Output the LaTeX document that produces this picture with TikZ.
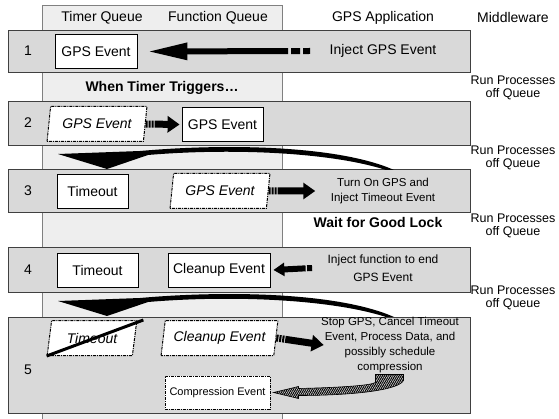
\documentclass[tikz,border=0pt]{standalone}
\usepackage{fontspec}
\setmainfont{Liberation Sans}
\usetikzlibrary{arrows.meta,shapes.geometric,patterns.meta}
\definecolor{colfill}{HTML}{EEEEEE}
\definecolor{bandfill}{HTML}{D9D9D9}
\definecolor{banddraw}{HTML}{404040}
\definecolor{colline}{HTML}{808080}
\tikzset{
    band/.style={fill=bandfill, draw=banddraw, line width=0.8pt},
    dashpat/.style={line width=1pt, dash pattern=on 3pt off 1pt on 1pt off 1pt},
    evbox/.style={draw, fill=white, line width=0.8pt, inner sep=0pt, minimum height=34pt},
    evpara/.style={trapezium, trapezium left angle=75, trapezium right angle=105,
        trapezium stretches=true, draw, fill=white, dashpat,
        font=\fontsize{14}{16}\selectfont\itshape, inner sep=0pt, minimum height=35pt},
    bigarrow/.style={line width=6pt, -{Triangle[length=40pt,width=16pt]},
        dash pattern=on 7pt off 3pt on 9pt off 3pt on 400pt},
    stripearrow/.style={line width=7pt, -{Triangle[length=12pt,width=16pt]},
        dash pattern=on 2pt off 1pt on 2pt off 1pt on 2pt off 1pt on 400pt},
    smallarrow/.style={line width=6pt, -{Triangle[length=11pt,width=13pt]},
        dash pattern=on 5pt off 1.5pt on 400pt},
    runq/.style={align=center, font=\fontsize{12.5}{13}\selectfont}
}
\begin{document}
\begin{tikzpicture}[x=1pt, y=-1pt, font=\fontsize{14}{16}\selectfont]
    \useasboundingbox (0,0) rectangle (559,419);

    % queue column
    \fill[colfill] (42,5) rectangle (282,419);
    \draw[colline, line width=0.8pt] (42,419) -- (42,5) -- (282,5) -- (282,419);

    % step bands
    \foreach \ya/\yb in {30/72, 101/145, 169/212, 247/292, 317/413}
        \draw[band] (8,\ya) rectangle (470,\yb);
    \foreach \n/\y in {1/51, 2/123, 3/191, 4/270, 5/370}
        \node (num\n) at (28,\y) {\n};

    \node (hTimer) at (102,18) {Timer Queue};
    \node (hFunc) at (218,18) {Function Queue};
    \node (hApp) at (383,18) {GPS Application};
    \node (hMid) at (513,18) {Middleware};

    \foreach \y [count=\i] in {88, 158, 226, 298}
        \node[runq] (run\i) at (513,\y) {Run Processes\\off Queue};

    % 1
    \node[evbox, minimum width=82pt] (gps1) at (96,51.5) {GPS Event};
    \node (inj1) at (383,51) {Inject GPS Event};
    \draw[bigarrow] ([xshift=-16pt]inj1.west) -- ([xshift=10pt]gps1.east);

    \node[font=\fontsize{14}{16}\selectfont\bfseries] (trig) at (162,88) {When Timer Triggers…};

    % 2
    \node[evpara, minimum width=100pt] (para2) at (97,124) {GPS Event};
    \node[evbox, minimum width=81pt] (gps2) at (222.5,124.5) {GPS Event};
    \draw[stripearrow] (para2.east) -- ([xshift=-2pt]gps2.west);

    \foreach \dy in {0,147}
        \fill[shift={(0,\dy)}] (58,154) -- (107,169) -- (148,155)
            .. controls (230,148) and (330,152) .. (386,170) -- (394,170)
            .. controls (340,146) and (230,143) .. (140,151) -- cycle;

    % 3
    \node[evbox, minimum width=71pt] (tout3) at (92.5,191) {Timeout};
    \node[evpara, minimum width=100pt] (para3) at (220,191) {GPS Event};
    \node[align=center, font=\fontsize{11.5}{15}\selectfont] (txt3) at (383,191)
        {Turn On GPS and\\Inject Timeout Event};
    \draw[stripearrow] (para3.east) -- ([xshift=-12pt]txt3.west);

    \node[font=\fontsize{14}{16}\selectfont\bfseries] (lock) at (378,222) {Wait for Good Lock};

    % 4
    \node[evbox, minimum width=81pt] (tout4) at (97.5,270) {Timeout};
    \node[evbox, minimum width=102pt] (clean4) at (219,270) {Cleanup Event};
    \node[align=center, font=\fontsize{12}{18}\selectfont] (txt4) at (383,268)
        {Inject function to end\\GPS Event};
    \draw[smallarrow] ([xshift=-12pt]txt4.west) -- ([xshift=3pt]clean4.east);

    % 5
    \node[evpara, minimum width=90pt] (tout5) at (92,338) {Timeout};
    \draw[line width=3pt] (tout5.bottom left corner) -- ([xshift=6pt]tout5.top right corner);
    \node[evpara, minimum width=117pt] (clean5) at (219.5,338) {Cleanup Event};
    \node[align=center, font=\fontsize{11.5}{15}\selectfont] (txt5) at (390,345)
        {Stop GPS, Cancel Timeout\\Event, Process Data, and\\possibly schedule\\compression};
    \draw[stripearrow] (clean5.east) -- ([xshift=6pt]txt5.west);

    \node[evbox, dashpat, minimum width=105pt, minimum height=33pt,
        font=\fontsize{11}{13}\selectfont] (comp) at (217.5,392.5) {Compression Event};
    \begin{scope}[shift={(comp.east)}]
        \filldraw[line width=0.6pt, pattern={Lines[angle=60,distance=1.8pt,line width=1pt]}]
            (3,0) -- (28,-6) -- (28,-4) .. controls (70,-5) and (100,-7) .. (105,-10)
            -- (105,-18) -- (133,-18) -- (133,-12) .. controls (128,-2) and (80,3) .. (28,3)
            -- (28,6) -- cycle;
    \end{scope}
\end{tikzpicture}
\end{document}
